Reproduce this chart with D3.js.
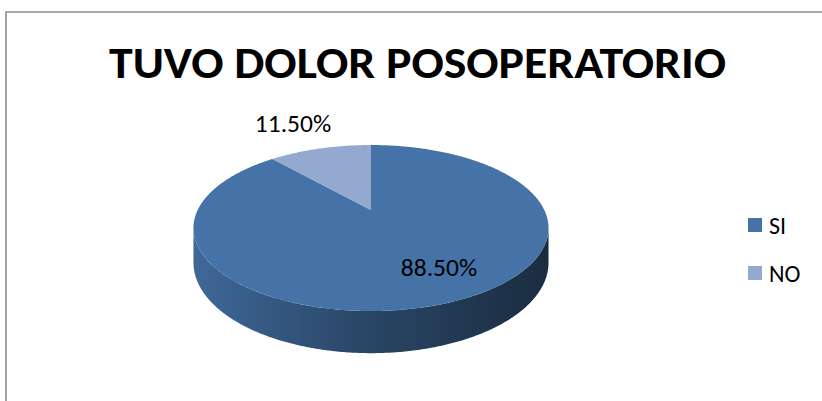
<!DOCTYPE html>
<html><head><meta charset="utf-8">
<script src="https://cdn.jsdelivr.net/npm/d3@7"></script>
<style>html,body{margin:0;padding:0;background:#fff;} svg{display:block;}</style>
</head><body><svg id="chart" width="822" height="401"></svg>
<script>
// Data
const chartTitle = "TUVO DOLOR POSOPERATORIO";
const categories = ["SI", "NO"];
const values = [88.5, 11.5];
const sliceColors = ["#4572A7", "#93A9CF"];

const W = 822, H = 401;
const fontFamily = "Carlito, Calibri, Lato, 'Open Sans', sans-serif";
const svg = d3.select("#chart");
const defs = svg.append("defs");

// Chart area frame (left and top edges visible)
svg.append("path")
  .attr("d", `M6,${H + 2}V12H${W + 2}`)
  .attr("fill", "none")
  .attr("stroke", "#8a8a8a")
  .attr("stroke-width", 1.6);

// Title
svg.append("text")
  .attr("x", 109).attr("y", 78)
  .attr("textLength", 617).attr("lengthAdjust", "spacingAndGlyphs")
  .attr("font-family", fontFamily).attr("font-weight", "bold")
  .attr("font-size", 44).attr("fill", "#000")
  .text(chartTitle);

// 3D pie: disc seen in perspective, centre (cx, cy), tilt factor k
const cx = 371, cy = 210, rx = 173.3, ry = 79.1, k = 0.217, depth = 33;
function project(theta, r, drop) {
  const x = r * Math.sin(theta), d = -r * Math.cos(theta);
  const s = 1 / (1 - k * d);
  return [cx + rx * x * s, cy + ry * d * s + depth * s * drop];
}
function arcPoints(a0, a1, drop) {
  const n = Math.max(2, Math.ceil(Math.abs(a1 - a0) / 0.01));
  return d3.range(n + 1).map(i => project(a0 + (a1 - a0) * i / n, 1, drop));
}
const line = d3.line();

const pie = d3.pie().sort(null).value(d => d.value);
const slices = pie(categories.map((c, i) => ({ name: c, value: values[i], color: sliceColors[i] })));

// Visible part of the side wall lies between the two silhouette angles
const tRight = Math.acos(-k), tLeft = 2 * Math.PI - tRight;
const xMin = cx - rx * 1.03, xMax = cx + rx * 1.03;

slices.forEach((sl, i) => {
  const a0 = Math.max(sl.startAngle, tRight), a1 = Math.min(sl.endAngle, tLeft);
  if (a1 <= a0) return;
  const base = d3.color(sl.data.color);
  const grad = defs.append("linearGradient")
    .attr("id", "side" + i).attr("gradientUnits", "userSpaceOnUse")
    .attr("x1", xMin).attr("x2", xMax).attr("y1", 0).attr("y2", 0);
  grad.append("stop").attr("offset", "0%").attr("stop-color", base.darker(0.25));
  grad.append("stop").attr("offset", "45%").attr("stop-color", base.darker(1.3));
  grad.append("stop").attr("offset", "100%").attr("stop-color", base.darker(2.7));
  const pts = arcPoints(a0, a1, 0).concat(arcPoints(a1, a0, 1));
  svg.append("path").attr("d", line(pts) + "Z").attr("fill", `url(#side${i})`);
});

// Top faces
slices.forEach(sl => {
  const pts = [project(0, 0, 0)].concat(arcPoints(sl.startAngle, sl.endAngle, 0));
  svg.append("path").attr("d", line(pts) + "Z").attr("fill", sl.data.color);
});

// Data labels
const fmt = v => d3.format(".2f")(v) + "%";
const labelLayout = [ { r: 0.7, dx: 18, dy: -3 }, { r: 1.3, dx: -15, dy: -10 } ];
slices.forEach((sl, i) => {
  const mid = (sl.startAngle + sl.endAngle) / 2;
  const p = project(mid, labelLayout[i].r, 0);
  svg.append("text")
    .attr("x", p[0] + labelLayout[i].dx).attr("y", p[1] + labelLayout[i].dy)
    .attr("text-anchor", "middle").attr("dominant-baseline", "central")
    .attr("font-family", fontFamily).attr("font-size", 25.5).attr("fill", "#000")
    .text(fmt(sl.data.value));
});

// Legend
const legend = svg.append("g").attr("transform", "translate(748,218)");
categories.forEach((c, i) => {
  const g = legend.append("g").attr("transform", `translate(0,${i * 48})`);
  g.append("rect").attr("width", 14).attr("height", 14).attr("fill", sliceColors[i]);
  g.append("text").attr("x", 21).attr("y", 15.5)
    .attr("font-family", fontFamily).attr("font-size", 24).attr("fill", "#000")
    .text(c);
});
</script>
</body></html>
